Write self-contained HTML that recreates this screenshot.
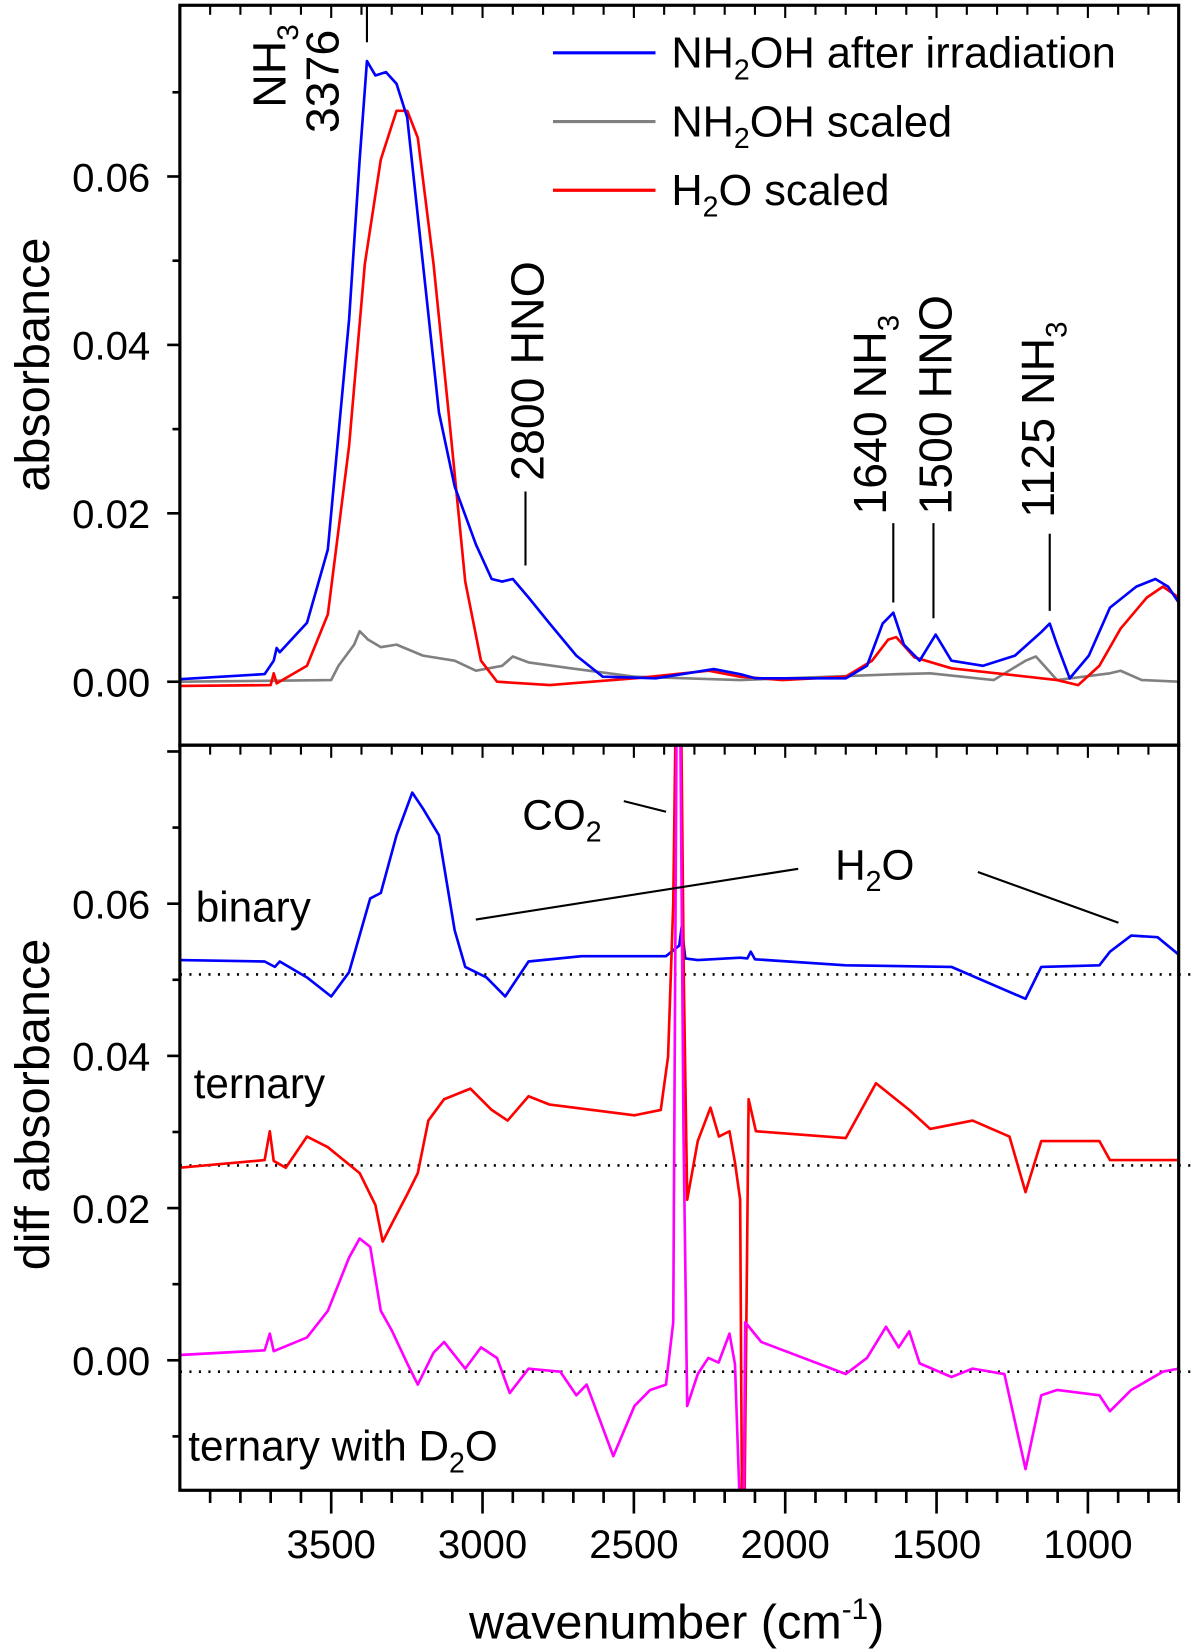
<!DOCTYPE html>
<html><head><meta charset="utf-8"><style>
html,body{margin:0;padding:0;background:#fff}
svg{display:block}
text{font-family:"Liberation Sans",Arial,sans-serif;fill:#000}
</style></head><body>
<svg id="chart" width="1200" height="1652" viewBox="0 0 1135 1563" xmlns="http://www.w3.org/2000/svg">
<defs>
<clipPath id="clipTop"><rect x="170" y="5" width="945" height="700"/></clipPath>
<clipPath id="clipBot"><rect x="170" y="705" width="945" height="705"/></clipPath>
</defs>
<g id="plots"></g>
<g id="axes"></g>
<g font-size="44">
  <text transform="translate(270,102) rotate(-90)">NH<tspan font-size="28" dy="12">3</tspan></text>
  <text transform="translate(320,126) rotate(-90)">3376</text>
  <line x1="347" y1="5" x2="347" y2="40" stroke="#000" stroke-width="2"/>
  <text transform="translate(514,455) rotate(-90)">2800  HNO</text>
  <line x1="497" y1="465" x2="497" y2="535" stroke="#000" stroke-width="2"/>
  <text transform="translate(838,487) rotate(-90)">1640 NH<tspan font-size="28" dy="12">3</tspan></text>
  <line x1="845" y1="495" x2="845" y2="570" stroke="#000" stroke-width="2"/>
  <text transform="translate(900,487) rotate(-90)">1500  HNO</text>
  <line x1="883" y1="495" x2="883" y2="585" stroke="#000" stroke-width="2"/>
  <text transform="translate(997,490) rotate(-90)">1125  NH<tspan font-size="28" dy="12">3</tspan></text>
  <line x1="993" y1="505" x2="993" y2="578" stroke="#000" stroke-width="2"/>
</g>
<g font-size="40">
  <text x="494" y="785">CO<tspan font-size="27" dy="11">2</tspan></text>
  <line x1="590" y1="758" x2="630" y2="768" stroke="#000" stroke-width="2"/>
  <text x="790" y="832">H<tspan font-size="27" dy="11">2</tspan><tspan dy="-11">O</tspan></text>
  <line x1="755" y1="822" x2="450" y2="870" stroke="#000" stroke-width="2"/>
  <line x1="925" y1="825" x2="1058" y2="873" stroke="#000" stroke-width="2"/>
  <text x="185" y="872">binary</text>
  <text x="183" y="1039">ternary</text>
  <text x="178" y="1382">ternary with D<tspan font-size="27" dy="11">2</tspan><tspan dy="-11">O</tspan></text>
</g>
<g font-size="41">
  <line x1="523" y1="50" x2="620" y2="50" stroke="#0000ff" stroke-width="3"/>
  <text x="635" y="64">NH<tspan font-size="27" dy="11">2</tspan><tspan dy="-11">OH after irradiation</tspan></text>
  <line x1="523" y1="115" x2="620" y2="115" stroke="#808080" stroke-width="3"/>
  <text x="635" y="129">NH<tspan font-size="27" dy="11">2</tspan><tspan dy="-11">OH scaled</tspan></text>
  <line x1="523" y1="180" x2="620" y2="180" stroke="#ff0000" stroke-width="3"/>
  <text x="635" y="194">H<tspan font-size="27" dy="11">2</tspan><tspan dy="-11">O scaled</tspan></text>
</g>
<text font-size="46" transform="translate(46,345) rotate(-90)" text-anchor="middle">absorbance</text>
<text font-size="46" transform="translate(46,1045) rotate(-90)" text-anchor="middle">diff absorbance</text>
<text font-size="46" x="640" y="1550" text-anchor="middle">wavenumber (cm<tspan font-size="28" dy="-18">-1</tspan><tspan dy="18">)</tspan></text>
</svg>
<script>
const wnTopBlue=[4000,3720,3690,3680,3670,3580,3511,3441,3406,3382,3354,3319,3284,3249,3197,3144,3092,3022,2970,2935,2900,2848,2778,2690,2603,2428,2236,2149,2097,1800,1730,1678,1643,1608,1556,1503,1451,1346,1241,1154,1126,1102,1060,997,927,840,777,735,700];
const absTopBlue=[0.0003,0.0009,0.0025,0.004,0.0035,0.007,0.0157,0.043,0.062,0.0737,0.072,0.0724,0.071,0.067,0.0496,0.032,0.0232,0.0163,0.0122,0.0119,0.0122,0.010,0.0069,0.0031,0.0006,0.0004,0.0015,0.0009,0.0004,0.0004,0.0019,0.0069,0.0082,0.0044,0.0025,0.0056,0.0025,0.0019,0.0031,0.0059,0.0069,0.0044,0.0004,0.0031,0.0088,0.0113,0.0122,0.0113,0.0094];
const wnTopRed=[4000,3700,3690,3680,3580,3511,3441,3389,3336,3284,3249,3214,3162,3109,3057,3005,2952,2778,2498,2253,2149,2010,1800,1713,1660,1633,1573,1451,1102,1032,962,892,805,752,700];
const absTopRed=[-0.0005,-0.0004,0.001,-0.0002,0.0019,0.008,0.028,0.0496,0.062,0.0678,0.0678,0.0646,0.0496,0.0308,0.0119,0.0025,0,-0.0004,0.0004,0.0013,0.0006,0.0002,0.0006,0.0025,0.005,0.0053,0.0029,0.0016,0.0002,-0.0004,0.0019,0.0063,0.010,0.0113,0.010];
const wnTopGray=[4000,3500,3476,3424,3406,3378,3336,3284,3197,3092,3022,2935,2900,2848,2708,2498,2149,1625,1521,1311,1206,1172,1137,1102,927,892,822,700];
const absTopGray=[0,0.0002,0.0019,0.0044,0.006,0.005,0.0041,0.0044,0.0031,0.0025,0.0013,0.0019,0.003,0.0023,0.0016,0.0006,0.0002,0.0009,0.001,0.0002,0.0025,0.003,0.0016,0.0002,0.001,0.0013,0.0002,0];
const wnBinary=[4000,3720,3686,3670,3580,3500,3441,3371,3336,3284,3232,3197,3144,3092,3057,2987,2925,2848,2673,2394,2350,2342,2330,2289,2149,2125,2114,2100,1800,1451,1206,1154,962,927,857,770,700];
const absBinary=[0.0526,0.0524,0.0517,0.0524,0.0503,0.0478,0.051,0.0607,0.0614,0.069,0.0746,0.0725,0.069,0.0565,0.0517,0.0503,0.0478,0.0524,0.0531,0.0531,0.0545,0.057,0.0528,0.0526,0.0529,0.0528,0.0537,0.0527,0.0519,0.0517,0.0475,0.0517,0.0519,0.0537,0.0558,0.0556,0.0533];
const wnTernary=[4000,3720,3703,3690,3650,3580,3511,3406,3354,3330,3295,3249,3214,3179,3127,3040,2970,2917,2848,2778,2638,2498,2411,2387,2370,2360,2345,2335,2324,2289,2247,2219,2184,2166,2149,2142,2136,2121,2097,1800,1700,1590,1521,1381,1259,1206,1154,962,927,700];
const absTernary=[0.0253,0.0263,0.0301,0.0262,0.0253,0.0294,0.028,0.0246,0.0204,0.0156,0.0183,0.0218,0.0246,0.0315,0.0343,0.0357,0.0329,0.0315,0.0347,0.0336,0.0329,0.0322,0.0329,0.0399,0.06,0.09,0.09,0.05,0.0211,0.0288,0.0332,0.0294,0.0301,0.026,0.0211,-0.025,-0.025,0.0343,0.0301,0.0292,0.0364,0.0329,0.0304,0.0315,0.0294,0.0221,0.0288,0.0288,0.0263,0.0263];
const wnD2O=[4000,3720,3703,3690,3580,3511,3441,3406,3371,3336,3301,3249,3214,3162,3127,3057,3005,2952,2910,2848,2743,2690,2656,2568,2498,2446,2394,2370,2358,2348,2336,2324,2289,2254,2220,2184,2166,2145,2138,2132,2079,1800,1730,1667,1625,1590,1556,1451,1381,1276,1206,1154,1102,962,927,857,752,700];
const absD2O=[0.0007,0.0013,0.0035,0.0012,0.003,0.0065,0.0135,0.016,0.0149,0.0065,0.004,-0.0004,-0.0032,0.001,0.0024,-0.0011,0.0017,0.0003,-0.0043,-0.0011,-0.0015,-0.0046,-0.0032,-0.0126,-0.006,-0.0039,-0.0032,0.005,0.09,0.09,0.03,-0.006,-0.0018,0.0003,-0.0003,0.0035,-0.0005,-0.025,-0.025,0.005,0.0024,-0.0018,0.0003,0.0044,0.0017,0.0038,-0.0004,-0.0022,-0.0011,-0.0018,-0.0143,-0.0046,-0.0039,-0.0046,-0.0067,-0.0039,-0.0015,-0.0011];
const baselines=[0.0507,0.0256,-0.0015];
const xTicksMajor=[3500,3000,2500,2000,1500,1000];
const yTicksTop=[0,0.02,0.04,0.06];
const yTicksBot=[0,0.02,0.04,0.06];

const X0=170,X1=1115;
function xs(w){return X0+(4000-w)/3.492;}
function yTop(a){return 645-a*7967;}
function yBot(a){return 1287-a*7200;}
const NS='http://www.w3.org/2000/svg';
const plots=document.getElementById('plots');
const axes=document.getElementById('axes');
function mk(tag,attrs,parent){const e=document.createElementNS(NS,tag);for(const k in attrs)e.setAttribute(k,attrs[k]);parent.appendChild(e);return e;}
function series(wn,ab,yf,color,clip,name,w){
  let d='';for(let i=0;i<wn.length;i++){d+=(i?'L':'M')+xs(wn[i]).toFixed(1)+','+yf(ab[i]).toFixed(1);}
  const p=mk('path',{d:d,fill:'none',stroke:color,'stroke-width':w||2.5,'stroke-linejoin':'round','clip-path':'url(#'+clip+')'},plots);
  
  
}
series(wnTopGray,absTopGray,yTop,'#808080','clipTop','series-nh2oh-scaled');
series(wnTopRed,absTopRed,yTop,'#ff0000','clipTop','series-h2o-scaled');
series(wnTopBlue,absTopBlue,yTop,'#0000ff','clipTop','series-nh2oh-irradiated');
baselines.forEach(function(b){
  const l=mk('line',{x1:X0,x2:1130,y1:yBot(b),y2:yBot(b),stroke:'#000','stroke-width':2.5,'stroke-dasharray':'2 7'},plots);
  
  
});
series(wnBinary,absBinary,yBot,'#0000ff','clipBot','series-binary');
series(wnTernary,absTernary,yBot,'#ff0000','clipBot','series-ternary');
series(wnD2O,absD2O,yBot,'#ff00ff','clipBot','series-ternary-d2o');

[[5,705,'top-panel-frame'],[705,1410,'bottom-panel-frame']].forEach(function(f){
  const r=mk('rect',{x:X0,y:f[0],width:X1-X0,height:f[1]-f[0],fill:'none',stroke:'#000','stroke-width':3},axes);
  
  
});
for(let w=3900;w>=700;w-=100){
  const maj=(w%500===0);const x=xs(w);
  const t=mk('line',{x1:x,x2:x,y1:1410,y2:1410+(maj?22:12),stroke:'#000','stroke-width':2.5},axes);
  
  
  const t2=mk('line',{x1:x,x2:x,y1:5,y2:5+(maj?12:9),stroke:'#000','stroke-width':2},axes);
  
  
  const t3=mk('line',{x1:x,x2:x,y1:705,y2:705+(maj?12:9),stroke:'#000','stroke-width':2},axes);
  
  
}
xTicksMajor.forEach(function(w){
  const t=mk('text',{x:xs(w),y:1474,'font-size':38,'text-anchor':'middle'},axes);
  t.textContent=String(w);
  
  
});
function yAxis(ticks,yf,lo,hi,name){
  for(let v=-0.01;v<=0.08;v+=0.01){
    const y=yf(v);if(y<lo||y>hi)continue;
    const maj=Math.abs(Math.round(v*100))%2===0;
    const t=mk('line',{x1:X0-(maj?12:7),x2:X0,y1:y,y2:y,stroke:'#000','stroke-width':2.5},axes);
    
    
  }
  ticks.forEach(function(v){
    const t=mk('text',{x:X0-28,y:yf(v)+14,'font-size':38,'text-anchor':'end'},axes);
    t.textContent=v.toFixed(2);
    
    
  });
}
yAxis(yTicksTop,yTop,8,702,'y-top');
yAxis(yTicksBot,yBot,708,1407,'y-bottom');
</script>
</body></html>
